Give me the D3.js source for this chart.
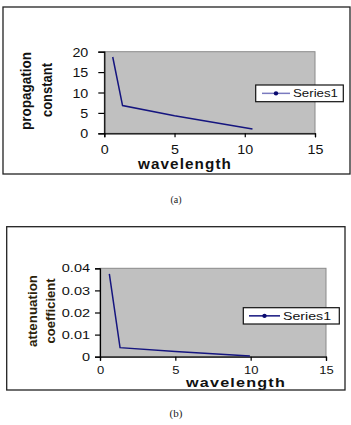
<!DOCTYPE html>
<html>
<head>
<meta charset="utf-8">
<script src="https://cdn.jsdelivr.net/npm/d3@7"></script>
<style>
  html, body { margin: 0; padding: 0; background: #fff; }
  svg { display: block; }
</style>
</head>
<body>
<svg id="chart" width="351" height="425"></svg>
<script>
// ---- data ----
const xTickValues = [0, 5, 10, 15];
const xTickLabels = ["0", "5", "10", "15"];

const aTickValues = [0, 5, 10, 15, 20];
const aTickLabels = ["0", "5", "10", "15", "20"];
const aWavelength = [0.6, 1.3, 5.0, 10.55];
const aPropagation = [18.7, 6.8, 4.3, 1.05];

const bTickValues = [0, 0.01, 0.02, 0.03, 0.04];
const bTickLabels = ["0", "0.01", "0.02", "0.03", "0.04"];
const bWavelength = [0.62, 1.33, 5.0, 9.95];
const bAttenuation = [0.0375, 0.0041, 0.0023, 0.0003];

const seriesName = "Series1";
const xTitle = "wavelength";
const aYTitle = ["propagation", "constant"];
const bYTitle = ["attenuation", "coefficient"];
const captions = ["(a)", "(b)"];

// ---- drawing ----
const svg = d3.select("#chart");
const SANS = "'Liberation Sans', Arial, sans-serif";
const LINE = "#15157f";

function stretch(sel, sx) {
  sel.each(function () {
    const w = this.getComputedTextLength();
    this.setAttribute("textLength", w * sx);
    this.setAttribute("lengthAdjust", "spacingAndGlyphs");
  });
}

function drawChart(cfg) {
  const g = svg.append("g");
  // outer frame
  g.append("rect")
    .attr("x", cfg.box[0]).attr("y", cfg.box[1])
    .attr("width", cfg.box[2]).attr("height", cfg.box[3])
    .attr("fill", "#fff").attr("stroke", "#222").attr("stroke-width", 1.3);

  const x = d3.scaleLinear().domain([0, 15]).range([cfg.plot.l, cfg.plot.r]);
  const y = d3.scaleLinear().domain(cfg.yDomain).range([cfg.plot.b, cfg.plot.t]);

  // plot area
  g.append("rect")
    .attr("x", cfg.plot.l).attr("y", cfg.plot.t)
    .attr("width", cfg.plot.r - cfg.plot.l).attr("height", cfg.plot.b - cfg.plot.t)
    .attr("fill", "#c0c0c0").attr("stroke", "#8a8a8a").attr("stroke-width", 1);

  // axes
  const yAxis = g.append("g")
    .attr("transform", `translate(${cfg.plot.l},0)`)
    .call(d3.axisLeft(y).tickValues(cfg.yTicks)
      .tickFormat((d, i) => cfg.yLabels[i])
      .tickSize(cfg.yTickLen).tickPadding(cfg.yPad));
  const xAxis = g.append("g")
    .attr("transform", `translate(0,${cfg.plot.b})`)
    .call(d3.axisBottom(x).tickValues(xTickValues)
      .tickFormat((d, i) => xTickLabels[i])
      .tickSize(cfg.xTickLen).tickPadding(cfg.xPad));
  [yAxis, xAxis].forEach(a => {
    a.select(".domain").attr("stroke", "#000").attr("stroke-width", 1.2);
    a.selectAll(".tick line").attr("stroke", "#000").attr("stroke-width", 1.2);
    a.selectAll("text").attr("font-family", SANS).attr("fill", "#111");
  });
  yAxis.selectAll("text").attr("font-size", cfg.yFont).attr("dy", "0.36em");
  xAxis.selectAll("text").attr("font-size", cfg.xFont).attr("dy", "0.72em");
  stretch(yAxis.selectAll("text"), cfg.ySx);
  stretch(xAxis.selectAll("text"), cfg.xSx);

  // series line
  const pts = cfg.xs.map((v, i) => [v, cfg.ys[i]]);
  g.append("path")
    .datum(pts)
    .attr("d", d3.line().x(d => x(d[0])).y(d => y(d[1])))
    .attr("fill", "none").attr("stroke", LINE).attr("stroke-width", 1.5);

  // x title
  g.append("text")
    .attr("x", cfg.xTitle.x).attr("y", cfg.xTitle.y)
    .attr("text-anchor", "middle")
    .attr("font-family", SANS).attr("font-weight", "bold")
    .attr("font-size", cfg.xTitle.fs).attr("fill", "#111")
    .attr("letter-spacing", 1)
    .attr("textLength", cfg.xTitle.len).attr("lengthAdjust", "spacingAndGlyphs")
    .text(xTitle);

  // y titles
  cfg.yTitles.forEach((t, i) => {
    g.append("text")
      .attr("transform", `translate(${t.x},${t.y}) rotate(-90)`)
      .attr("text-anchor", "middle")
      .attr("font-family", SANS).attr("font-weight", "bold")
      .attr("font-size", cfg.yTitleFs).attr("fill", cfg.yTitleColor)
      .attr("textLength", t.len).attr("lengthAdjust", "spacingAndGlyphs")
      .text(cfg.yTitleText[i]);
  });

  // legend
  const L = cfg.legend;
  g.append("rect")
    .attr("x", L.x).attr("y", L.y).attr("width", L.w).attr("height", L.h)
    .attr("fill", "#fff").attr("stroke", "#111").attr("stroke-width", 1.2);
  const ly = L.y + L.h / 2;
  g.append("line")
    .attr("x1", L.lx1).attr("x2", L.lx2).attr("y1", ly).attr("y2", ly)
    .attr("stroke", L.lineColor).attr("stroke-width", 1.5);
  g.append("circle")
    .attr("cx", (L.lx1 + L.lx2) / 2).attr("cy", ly).attr("r", 2.2)
    .attr("fill", "#0a0a70");
  g.append("text")
    .attr("x", L.tx).attr("y", ly).attr("dy", "0.36em")
    .attr("font-family", SANS).attr("font-size", L.fs).attr("fill", "#111")
    .attr("textLength", L.tlen).attr("lengthAdjust", "spacingAndGlyphs")
    .text(seriesName);

  // caption
  svg.append("text")
    .attr("x", cfg.caption.x).attr("y", cfg.caption.y)
    .attr("text-anchor", "middle")
    .attr("font-family", "'Liberation Serif', 'Times New Roman', serif")
    .attr("font-size", cfg.caption.fs).attr("fill", "#222")
    .text(cfg.caption.text);
}

drawChart({
  box: [3, 7, 347, 167],
  plot: { l: 104.3, r: 315, t: 51.7, b: 133.3 },
  yDomain: [0, 20], yTicks: aTickValues, yLabels: aTickLabels,
  yTickLen: 6, yPad: 10, yFont: 13, ySx: 1.1,
  xTickLen: 4, xPad: 7, xFont: 13, xSx: 1.1,
  xs: aWavelength, ys: aPropagation,
  xTitle: { x: 185, y: 168.5, fs: 14, len: 94 },
  yTitleText: aYTitle, yTitleFs: 14, yTitleColor: "#111",
  yTitles: [{ x: 31, y: 91, len: 78 }, { x: 52, y: 90, len: 54 }],
  legend: { x: 255.7, y: 85, w: 87.6, h: 16.7, lx1: 262, lx2: 290, tx: 293, tlen: 45, fs: 11, lineColor: "#7a7abf" },
  caption: { x: 176, y: 203, fs: 10, text: captions[0] }
});

drawChart({
  box: [6.7, 226.7, 338.3, 163.3],
  plot: { l: 100, r: 326, t: 268.3, b: 356.7 },
  yDomain: [0, 0.04], yTicks: bTickValues, yLabels: bTickLabels,
  yTickLen: 5, yPad: 5, yFont: 10, ySx: 1.45,
  xTickLen: 4, xPad: 6, xFont: 10, xSx: 1.3,
  xs: bWavelength, ys: bAttenuation,
  xTitle: { x: 236, y: 387, fs: 13.5, len: 100 },
  yTitleText: bYTitle, yTitleFs: 13, yTitleColor: "#2b2108",
  yTitles: [{ x: 36.5, y: 311, len: 72 }, { x: 54.5, y: 311, len: 65 }],
  legend: { x: 243.3, y: 307.7, w: 96, h: 16.3, lx1: 249, lx2: 280, tx: 283, tlen: 48, fs: 11, lineColor: "#15157f" },
  caption: { x: 176, y: 417, fs: 11, text: captions[1] }
});
</script>
</body>
</html>
